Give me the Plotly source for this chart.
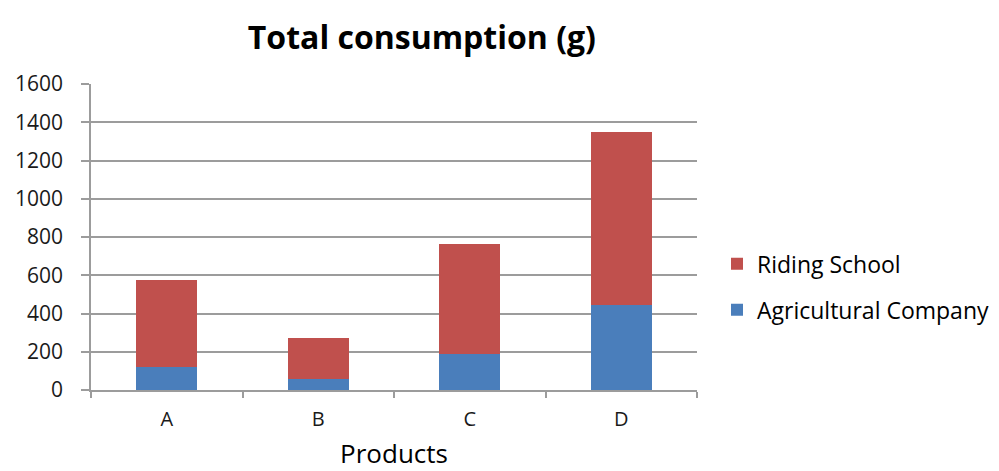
import plotly.graph_objects as go

products = ["A", "B", "C", "D"]
agricultural_company = [120, 60, 190, 445]
riding_school = [455, 210, 575, 905]
y_ticks = [0, 200, 400, 600, 800, 1000, 1200, 1400, 1600]

grid_color = "#9c9c9c"
font_family = "Open Sans"

fig = go.Figure()
fig.add_trace(go.Bar(
    x=products, y=agricultural_company, name="Agricultural Company",
    marker=dict(color="#4A7EBB", line=dict(width=0)),
    legendgroup="ag", legendrank=2,
))
fig.add_trace(go.Bar(
    x=products, y=riding_school, name="Riding School",
    marker=dict(color="#C0504D", line=dict(width=0)),
    legendgroup="rs", legendrank=1,
))

fig.update_layout(
    width=999, height=471,
    barmode="stack", bargap=0.6,
    paper_bgcolor="white", plot_bgcolor="white",
    margin=dict(l=91, r=302, t=84, b=81, autoexpand=False),
    font=dict(family=font_family, color="#1a1a1a"),
    title=dict(
        text="<b>Total consumption (g)</b>",
        font=dict(size=32, color="black", family=font_family),
        x=0.546, xref="paper", xanchor="center",
        y=0.919, yref="container", yanchor="middle",
    ),
    legend=dict(
        x=1.033, xanchor="left", y=0.337, yanchor="middle",
        traceorder="grouped", tracegroupgap=13,
        font=dict(size=23, color="black", family=font_family),
        bgcolor="rgba(0,0,0,0)",
    ),
    xaxis=dict(
        automargin=False,
        showline=True, linecolor=grid_color, linewidth=1.5,
        ticks="outside", tickson="boundaries", ticklen=6,
        tickcolor=grid_color, tickwidth=1.5,
        tickfont=dict(size=20, color="#1a1a1a"),
        ticklabelstandoff=10,
        title=dict(text="Products", font=dict(size=26, color="black"), standoff=20),
    ),
    yaxis=dict(
        automargin=False,
        range=[0, 1600], tickvals=y_ticks,
        showgrid=True, gridcolor=grid_color, gridwidth=1.5,
        showline=True, linecolor=grid_color, linewidth=1.5,
        ticks="outside", ticklen=8, tickcolor=grid_color, tickwidth=1.5,
        tickfont=dict(size=21, color="#1a1a1a"),
        ticklabelstandoff=14,
        zeroline=False,
    ),
)

fig.write_html("out.html")
